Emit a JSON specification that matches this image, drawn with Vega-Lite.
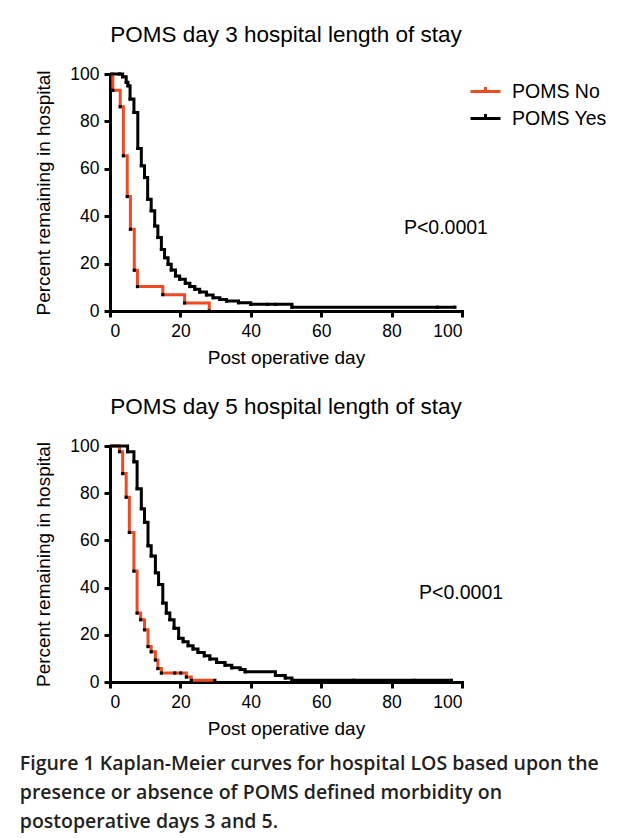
{
  "$schema": "https://vega.github.io/schema/vega-lite/v6.json",
  "background": "white",
  "padding": {"left": 19, "top": 23, "right": 5, "bottom": 5},
  "spacing": 27,
  "config": {
    "font": "Liberation Sans",
    "view": {"stroke": null},
    "axis": {
      "domainColor": "black", "domainWidth": 3, "domainCap": "square",
      "tickColor": "black", "tickWidth": 3, "tickSize": 6,
      "labelColor": "black", "labelFont": "Liberation Sans", "labelFontSize": 17.5, "labelPadding": 5,
      "titleFont": "Liberation Sans", "titleFontSize": 19, "titleFontWeight": "normal", "titleColor": "black",
      "grid": false
    },
    "title": {"font": "Liberation Sans", "fontSize": 22.5, "fontWeight": "normal", "color": "black"},
    "legend": {
      "title": null, "orient": "none", "legendX": 359,
      "symbolType": "M-1,0L1,0M0,0L0,-0.3", "symbolSize": 900, "symbolStrokeWidth": 3,
      "labelFont": "Liberation Sans", "labelFontSize": 19.5, "labelColor": "black", "labelOffset": 10, "rowPadding": 1
    }
  },
  "title": {
    "text": ["Figure 1 Kaplan-Meier curves for hospital LOS based upon the", "presence or absence of POMS defined morbidity on", "postoperative days 3 and 5."],
    "orient": "bottom", "anchor": "start", "font": "Open Sans", "fontSize": 19.5, "fontWeight": 600,
    "color": "#231f20", "lineHeight": 29, "offset": 16, "dx": -15
  },
  "vconcat": [
    {
      "width": 352, "height": 237,
      "title": {"text": "POMS day 3 hospital length of stay", "offset": 19},
      "data": {"values": [
        {"t": 0, "s": 100, "g": "POMS No"}, {"t": 0.8, "s": 93.1, "g": "POMS No"}, {"t": 2.9, "s": 86.2, "g": "POMS No"},
        {"t": 3.8, "s": 65.5, "g": "POMS No"}, {"t": 4.9, "s": 48.3, "g": "POMS No"}, {"t": 5.8, "s": 34.5, "g": "POMS No"},
        {"t": 6.9, "s": 17.2, "g": "POMS No"}, {"t": 7.8, "s": 10.3, "g": "POMS No"}, {"t": 15, "s": 6.9, "g": "POMS No"},
        {"t": 21.2, "s": 3.4, "g": "POMS No"}, {"t": 28.2, "s": 0, "g": "POMS No"},
        {"t": 0, "s": 100, "g": "POMS Yes"}, {"t": 2.7, "s": 100, "g": "POMS Yes"}, {"t": 3.6, "s": 98.8, "g": "POMS Yes"},
        {"t": 4.6, "s": 96.5, "g": "POMS Yes"}, {"t": 5.1, "s": 95, "g": "POMS Yes"}, {"t": 5.7, "s": 89.4, "g": "POMS Yes"},
        {"t": 6.8, "s": 83.8, "g": "POMS Yes"}, {"t": 7.9, "s": 68.6, "g": "POMS Yes"}, {"t": 8.9, "s": 61.3, "g": "POMS Yes"},
        {"t": 9.8, "s": 56.3, "g": "POMS Yes"}, {"t": 10.7, "s": 47.2, "g": "POMS Yes"}, {"t": 11.7, "s": 42.3, "g": "POMS Yes"},
        {"t": 12.7, "s": 35.9, "g": "POMS Yes"}, {"t": 13.6, "s": 31, "g": "POMS Yes"}, {"t": 14.6, "s": 26, "g": "POMS Yes"},
        {"t": 15.5, "s": 22.5, "g": "POMS Yes"}, {"t": 16.5, "s": 19.7, "g": "POMS Yes"}, {"t": 17.4, "s": 17.3, "g": "POMS Yes"},
        {"t": 18.6, "s": 14.8, "g": "POMS Yes"}, {"t": 19.8, "s": 13.4, "g": "POMS Yes"}, {"t": 21.4, "s": 11.7, "g": "POMS Yes"},
        {"t": 22.7, "s": 10.3, "g": "POMS Yes"}, {"t": 24.1, "s": 9.2, "g": "POMS Yes"}, {"t": 25.5, "s": 8, "g": "POMS Yes"},
        {"t": 27.4, "s": 6.8, "g": "POMS Yes"}, {"t": 29.3, "s": 5.6, "g": "POMS Yes"}, {"t": 31.2, "s": 4.9, "g": "POMS Yes"},
        {"t": 33.1, "s": 4.2, "g": "POMS Yes"}, {"t": 36.5, "s": 3.5, "g": "POMS Yes"}, {"t": 40, "s": 2.8, "g": "POMS Yes"},
        {"t": 44.7, "s": 2.8, "g": "POMS Yes"}, {"t": 47, "s": 2.8, "g": "POMS Yes"}, {"t": 51.7, "s": 1.6, "g": "POMS Yes"},
        {"t": 93, "s": 1.6, "g": "POMS Yes"}, {"t": 98, "s": 1.6, "g": "POMS Yes"}
      ]},
      "layer": [
        {
          "mark": {"type": "line", "interpolate": "step-after", "strokeWidth": 3},
          "encoding": {
            "x": {"field": "t", "type": "quantitative", "scale": {"domain": [0, 100], "nice": false}, "axis": {"values": [0, 20, 40, 60, 80, 100], "title": "Post operative day", "titlePadding": 9}},
            "y": {"field": "s", "type": "quantitative", "scale": {"domain": [0, 100], "nice": false}, "axis": {"values": [0, 20, 40, 60, 80, 100], "title": "Percent remaining in hospital", "titlePadding": 16}},
            "color": {"field": "g", "type": "nominal", "scale": {"domain": ["POMS No", "POMS Yes"], "range": ["#ef4b23", "#000000"]}, "legend": {"legendY": 1}}
          }
        },
        {
          "transform": [{"filter": "datum.t > 0"}],
          "mark": {"type": "square", "size": 10, "color": "black", "opacity": 1},
          "encoding": {"x": {"field": "t", "type": "quantitative"}, "y": {"field": "s", "type": "quantitative"}}
        },
        {
          "data": {"values": [{"px": 83.5, "py": 35, "label": "P<0.0001"}]},
          "mark": {"type": "text", "align": "left", "baseline": "middle", "fontSize": 19.5, "font": "Liberation Sans", "color": "black"},
          "encoding": {"x": {"field": "px", "type": "quantitative"}, "y": {"field": "py", "type": "quantitative"}, "text": {"field": "label"}}
        }
      ]
    },
    {
      "width": 352, "height": 236,
      "title": {"text": "POMS day 5 hospital length of stay", "offset": 19},
      "data": {"values": [
        {"t": 0, "s": 100, "g": "POMS No"}, {"t": 2.7, "s": 97.6, "g": "POMS No"}, {"t": 3.6, "s": 88.3, "g": "POMS No"},
        {"t": 4.6, "s": 78.3, "g": "POMS No"}, {"t": 5.5, "s": 63.4, "g": "POMS No"}, {"t": 6.8, "s": 47, "g": "POMS No"},
        {"t": 7.7, "s": 29.2, "g": "POMS No"}, {"t": 8.7, "s": 26.4, "g": "POMS No"}, {"t": 9.8, "s": 22.1, "g": "POMS No"},
        {"t": 10.8, "s": 15, "g": "POMS No"}, {"t": 11.7, "s": 12.8, "g": "POMS No"}, {"t": 12.9, "s": 9.3, "g": "POMS No"},
        {"t": 13.6, "s": 5.7, "g": "POMS No"}, {"t": 14.6, "s": 3.8, "g": "POMS No"}, {"t": 18.4, "s": 3.8, "g": "POMS No"},
        {"t": 20.1, "s": 3.8, "g": "POMS No"}, {"t": 21.7, "s": 2.1, "g": "POMS No"}, {"t": 23.1, "s": 0.7, "g": "POMS No"},
        {"t": 29.8, "s": 0.7, "g": "POMS No"},
        {"t": 0, "s": 100, "g": "POMS Yes"}, {"t": 5, "s": 97.6, "g": "POMS Yes"}, {"t": 6.8, "s": 93.3, "g": "POMS Yes"},
        {"t": 7.7, "s": 81.9, "g": "POMS Yes"}, {"t": 8.9, "s": 73.4, "g": "POMS Yes"}, {"t": 9.8, "s": 67.7, "g": "POMS Yes"},
        {"t": 10.8, "s": 57.7, "g": "POMS Yes"}, {"t": 11.7, "s": 53.4, "g": "POMS Yes"}, {"t": 12.9, "s": 46.3, "g": "POMS Yes"},
        {"t": 13.8, "s": 41.3, "g": "POMS Yes"}, {"t": 15, "s": 33.5, "g": "POMS Yes"}, {"t": 16, "s": 29.2, "g": "POMS Yes"},
        {"t": 17, "s": 26.4, "g": "POMS Yes"}, {"t": 18.2, "s": 22.8, "g": "POMS Yes"}, {"t": 19.5, "s": 18.5, "g": "POMS Yes"},
        {"t": 20.8, "s": 17.1, "g": "POMS Yes"}, {"t": 22.2, "s": 15.4, "g": "POMS Yes"}, {"t": 23.6, "s": 14, "g": "POMS Yes"},
        {"t": 25, "s": 12.5, "g": "POMS Yes"}, {"t": 26.8, "s": 11.1, "g": "POMS Yes"}, {"t": 28.4, "s": 9.7, "g": "POMS Yes"},
        {"t": 30.3, "s": 8.3, "g": "POMS Yes"}, {"t": 32.7, "s": 7.1, "g": "POMS Yes"}, {"t": 34.6, "s": 6, "g": "POMS Yes"},
        {"t": 37, "s": 5.3, "g": "POMS Yes"}, {"t": 38.4, "s": 4.3, "g": "POMS Yes"}, {"t": 47, "s": 2.8, "g": "POMS Yes"},
        {"t": 49.8, "s": 1.7, "g": "POMS Yes"}, {"t": 51.7, "s": 0.7, "g": "POMS Yes"}, {"t": 69.3, "s": 0.7, "g": "POMS Yes"},
        {"t": 86.5, "s": 0.7, "g": "POMS Yes"}, {"t": 97, "s": 0.7, "g": "POMS Yes"}
      ]},
      "layer": [
        {
          "mark": {"type": "line", "interpolate": "step-after", "strokeWidth": 3},
          "encoding": {
            "x": {"field": "t", "type": "quantitative", "scale": {"domain": [0, 100], "nice": false}, "axis": {"values": [0, 20, 40, 60, 80, 100], "title": "Post operative day", "titlePadding": 9}},
            "y": {"field": "s", "type": "quantitative", "scale": {"domain": [0, 100], "nice": false}, "axis": {"values": [0, 20, 40, 60, 80, 100], "title": "Percent remaining in hospital", "titlePadding": 16}},
            "color": {"field": "g", "type": "nominal", "scale": {"domain": ["POMS No", "POMS Yes"], "range": ["#ef4b23", "#000000"]}, "legend": {"legendY": -2}}
          }
        },
        {
          "transform": [{"filter": "datum.t > 0"}],
          "mark": {"type": "square", "size": 10, "color": "black", "opacity": 1},
          "encoding": {"x": {"field": "t", "type": "quantitative"}, "y": {"field": "s", "type": "quantitative"}}
        },
        {
          "data": {"values": [{"px": 87.8, "py": 37.7, "label": "P<0.0001"}]},
          "mark": {"type": "text", "align": "left", "baseline": "middle", "fontSize": 19.5, "font": "Liberation Sans", "color": "black"},
          "encoding": {"x": {"field": "px", "type": "quantitative"}, "y": {"field": "py", "type": "quantitative"}, "text": {"field": "label"}}
        }
      ]
    }
  ]
}
